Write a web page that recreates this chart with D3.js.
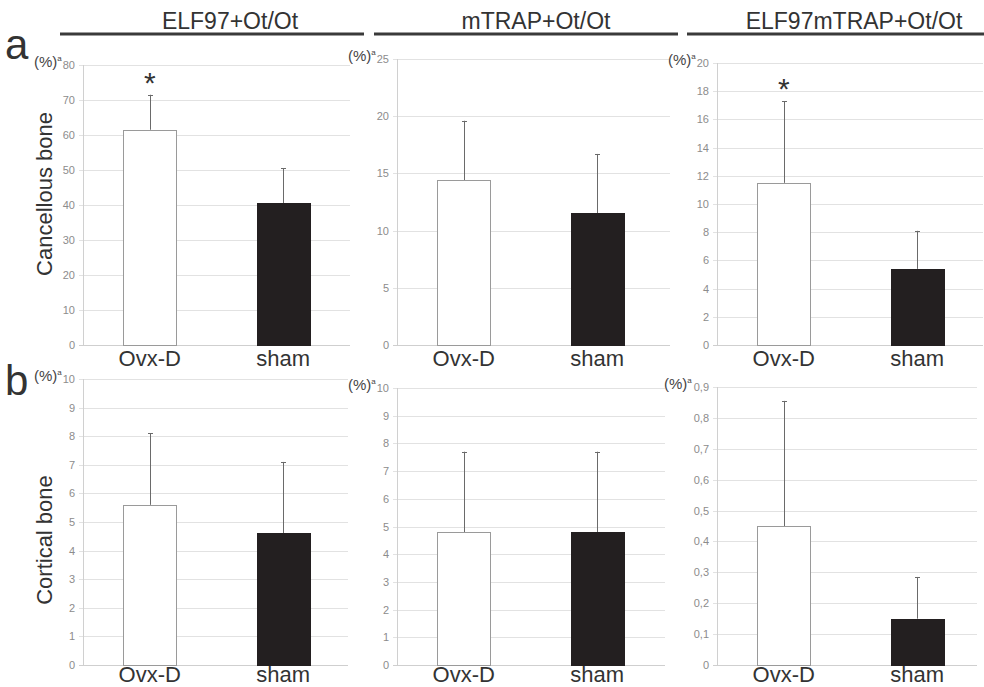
<!DOCTYPE html>
<html>
<head>
<meta charset="utf-8">
<script src="https://cdn.jsdelivr.net/npm/d3@7"></script>
<style>
  body { margin: 0; background: #fff; }
  svg { display: block; font-family: "Liberation Sans", Arial, sans-serif; }
</style>
</head>
<body>
<svg width="984" height="687"></svg>
<script>
// data
var groups = ["Ovx-D", "sham"];
var strains = ["ELF97+Ot/Ot", "mTRAP+Ot/Ot", "ELF97mTRAP+Ot/Ot"];
var rowTitles = ["Cancellous bone", "Cortical bone"];
var rowLetters = ["a", "b"];

var cancellousMean = [[61.5, 40.5], [14.4, 11.5], [11.5, 5.4]];
var cancellousSD = [[10.0, 10.0], [5.2, 5.2], [5.8, 2.7]];
var cancellousMax = [80, 25, 20];
var cancellousStep = [10, 5, 2];
var cancellousSig = [true, false, true];

var corticalMean = [[5.6, 4.6], [4.8, 4.8], [0.45, 0.15]];
var corticalSD = [[2.5, 2.5], [2.9, 2.9], [0.405, 0.135]];
var corticalMax = [10, 10, 0.9];
var corticalStep = [1, 1, 0.1];
var corticalSig = [false, false, false];

var rows = [
  { mean: cancellousMean, sd: cancellousSD, max: cancellousMax, step: cancellousStep, sig: cancellousSig },
  { mean: corticalMean, sd: corticalSD, max: corticalMax, step: corticalStep, sig: corticalSig }
];

// layout
var axisX = [83, 397, 717];
var gridEnd = [[350, 670, 983], [348, 665, 977]];
var yTops = [[65, 59, 63], [379, 388, 387]];
var yBottom = [345, 665];
var catY = [366, 682];
var plotW = 267;

var svg = d3.select("svg");

// strain headers
var headLines = [[60, 364], [374, 678], [687, 984]];
var headText = [230, 536, 854];
strains.forEach(function(s, i) {
  svg.append("line")
    .attr("x1", headLines[i][0]).attr("x2", headLines[i][1])
    .attr("y1", 34).attr("y2", 34)
    .attr("stroke", "#3a3a3a").attr("stroke-width", 3);
  svg.append("text")
    .attr("x", headText[i]).attr("y", 29)
    .attr("text-anchor", "middle")
    .attr("font-size", 23)
    .attr("fill", "#333")
    .text(s);
});

rows.forEach(function(row, r) {
  // row letter
  svg.append("text")
    .attr("x", 5).attr("y", r === 0 ? 59 : 395)
    .attr("font-size", 42).attr("fill", "#333")
    .text(rowLetters[r]);

  // row title
  var ty = r === 0 ? 194 : 540;
  svg.append("text")
    .attr("transform", "translate(52," + ty + ") rotate(-90)")
    .attr("text-anchor", "middle")
    .attr("font-size", 22).attr("fill", "#333")
    .text(rowTitles[r]);

  strains.forEach(function(s, i) {
    var x0 = axisX[i];
    var y = d3.scaleLinear()
      .domain([0, row.max[i]])
      .range([yBottom[r], yTops[r][i]]);
    var x = d3.scaleBand()
      .domain(groups)
      .range([x0, x0 + plotW])
      .paddingInner(0.6)
      .paddingOuter(0.3);

    var ticks = d3.range(0, row.max[i] + row.step[i] / 2, row.step[i]);
    var fmt = row.step[i] < 1
      ? function(v) { return v === 0 ? "0" : d3.format(".1f")(v).replace(".", ","); }
      : d3.format("d");

    var g = svg.append("g");

    // gridlines
    g.selectAll("line.grid").data(ticks).enter().append("line")
      .attr("class", "grid")
      .attr("x1", x0 - 4).attr("x2", gridEnd[r][i])
      .attr("y1", function(d) { return Math.round(y(d)) + 0.5; })
      .attr("y2", function(d) { return Math.round(y(d)) + 0.5; })
      .attr("stroke", function(d) { return d === 0 ? "#cfcfcf" : "#e2e2e2"; })
      .attr("stroke-width", 1);

    // y axis line
    g.append("line")
      .attr("x1", x0 + 0.5).attr("x2", x0 + 0.5)
      .attr("y1", y(row.max[i])).attr("y2", y(0))
      .attr("stroke", "#d0d0d0");

    // tick labels
    g.selectAll("text.tick").data(ticks).enter().append("text")
      .attr("class", "tick")
      .attr("x", x0 - 8)
      .attr("y", function(d) { return y(d) + 4; })
      .attr("text-anchor", "end")
      .attr("font-size", 11)
      .attr("fill", "#8c8c8c")
      .text(fmt);

    // (%)a unit
    var unit = g.append("text")
      .attr("x", x0 - 49 + (row.step[i] < 1 ? -4 : 0))
      .attr("y", y(row.max[i]) + 2)
      .attr("font-size", 15).attr("fill", "#444");
    unit.append("tspan").text("(%)");
    unit.append("tspan").attr("font-size", 8).attr("dy", -6).text("a");

    var vals = groups.map(function(gname, k) {
      return { name: gname, mean: row.mean[i][k], sd: row.sd[i][k], k: k };
    });

    // error bars (upper only)
    g.selectAll("line.err").data(vals).enter().append("line")
      .attr("x1", function(d) { return Math.round(x(d.name) + x.bandwidth() / 2) + 0.5; })
      .attr("x2", function(d) { return Math.round(x(d.name) + x.bandwidth() / 2) + 0.5; })
      .attr("y1", function(d) { return y(d.mean); })
      .attr("y2", function(d) { return y(d.mean + d.sd); })
      .attr("stroke", "#6a6a6a").attr("stroke-width", 1);
    g.selectAll("line.cap").data(vals).enter().append("line")
      .attr("x1", function(d) { return Math.round(x(d.name) + x.bandwidth() / 2) - 2; })
      .attr("x2", function(d) { return Math.round(x(d.name) + x.bandwidth() / 2) + 3; })
      .attr("y1", function(d) { return Math.round(y(d.mean + d.sd)) + 0.5; })
      .attr("y2", function(d) { return Math.round(y(d.mean + d.sd)) + 0.5; })
      .attr("stroke", "#6a6a6a").attr("stroke-width", 1);

    // bars
    g.selectAll("rect.bar").data(vals).enter().append("rect")
      .attr("x", function(d) { return Math.round(x(d.name)) + 0.5; })
      .attr("y", function(d) { return Math.round(y(d.mean)) + 0.5; })
      .attr("width", Math.round(x.bandwidth()))
      .attr("height", function(d) { return Math.round(y(0)) - Math.round(y(d.mean)); })
      .attr("fill", function(d) { return d.k === 0 ? "#fff" : "#231f20"; })
      .attr("stroke", function(d) { return d.k === 0 ? "#9a9a9a" : "#231f20"; })
      .attr("stroke-width", 1);

    // significance
    if (row.sig[i]) {
      var d0 = vals[0];
      g.append("text")
        .attr("x", x(d0.name) + x.bandwidth() / 2)
        .attr("y", y(d0.mean + d0.sd) - 2)
        .attr("text-anchor", "middle")
        .attr("font-size", 30).attr("fill", "#333")
        .text("*");
    }

    // category labels
    g.selectAll("text.cat").data(groups).enter().append("text")
      .attr("x", function(d) { return x(d) + x.bandwidth() / 2; })
      .attr("y", catY[r])
      .attr("text-anchor", "middle")
      .attr("font-size", 22).attr("fill", "#333")
      .text(function(d) { return d; });
  });
});
</script>
</body>
</html>
